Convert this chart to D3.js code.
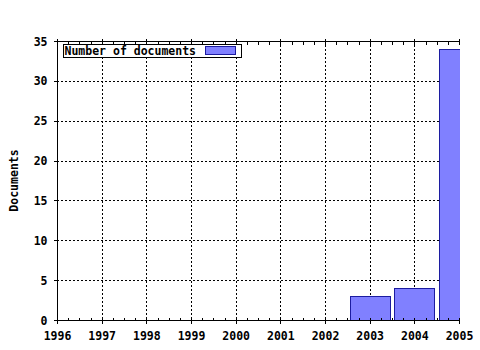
<!DOCTYPE html>
<html lang="en">
<head>
    <meta charset="UTF-8">
    <title>Number of documents</title>
    <script src="https://d3js.org/d3.v7.min.js"></script>
    <style>
        body { margin: 0; background: #fff; }
        text {
            font-family: "DejaVu Sans Mono", monospace;
            font-weight: bold;
            font-size: 11.5px;
            fill: #000;
        }
        .grid line { stroke: #000; stroke-width: 1; stroke-dasharray: 2,2; }
        .axis path, .axis line { stroke: #000; shape-rendering: crispEdges; }
    </style>
</head>
<body>
<svg id="chart" width="480" height="350"></svg>
<script>
    const years = [2003, 2004, 2005];
    const documents = [3, 4, 34];
    const xTicks = [1996, 1997, 1998, 1999, 2000, 2001, 2002, 2003, 2004, 2005];
    const yTicks = [0, 5, 10, 15, 20, 25, 30, 35];
    const seriesName = "Number of documents";

    const plotL = 57, plotR = 459, plotT = 41, plotB = 320;
    const svg = d3.select("#chart");

    const x = d3.scaleLinear().domain([1996, 2005]).range([plotL, plotR]);
    const y = d3.scaleLinear().domain([0, 35]).range([plotB, plotT]);
    const step = x(1997) - x(1996);
    const barW = step * 0.9;

    svg.append("defs").append("clipPath").attr("id", "plot")
        .append("rect").attr("x", plotL).attr("y", plotT)
        .attr("width", plotR - plotL + 1).attr("height", plotB - plotT + 1);

    // dotted grid
    const grid = svg.append("g").attr("class", "grid");
    grid.selectAll(".gx").data(xTicks.slice(1, -1)).enter().append("line")
        .attr("x1", d => Math.round(x(d)) + 0.5).attr("x2", d => Math.round(x(d)) + 0.5)
        .attr("y1", plotT).attr("y2", plotB);
    grid.selectAll(".gy").data(yTicks.slice(1, -1)).enter().append("line")
        .attr("y1", d => Math.round(y(d)) + 0.5).attr("y2", d => Math.round(y(d)) + 0.5)
        .attr("x1", plotL).attr("x2", plotR);

    // bars
    svg.append("g").attr("clip-path", "url(#plot)")
        .selectAll("rect").data(years).enter().append("rect")
        .attr("x", d => Math.round(x(d) - barW / 2) + 0.5)
        .attr("y", (d, i) => Math.round(y(documents[i])) + 0.5)
        .attr("width", Math.round(barW))
        .attr("height", (d, i) => plotB - Math.round(y(documents[i])))
        .attr("fill", "#8080ff")
        .attr("stroke", "#1c1ca0")
        .attr("stroke-width", 1);

    const minor = d3.range(1996, 2005.01, 0.25);

    // bottom axis
    svg.append("g").attr("class", "axis")
        .attr("transform", `translate(0,${plotB + 0.5})`)
        .call(d3.axisBottom(x).tickValues(minor).tickSize(-3).tickFormat(""))
        .call(g => g.select(".domain").remove());
    svg.append("g").attr("class", "axis")
        .attr("transform", `translate(0,${plotB + 0.5})`)
        .call(d3.axisBottom(x).tickValues(xTicks).tickSize(3).tickFormat(d3.format("d")).tickPadding(6))
        .call(g => g.select(".domain").attr("d", `M${plotL},0H${plotR}`))
        .call(g => g.selectAll("line").attr("y1", -3))
        .call(g => g.selectAll("text").attr("dy", "0.9em"));

    // top axis
    svg.append("g").attr("class", "axis")
        .attr("transform", `translate(0,${plotT + 0.5})`)
        .call(d3.axisTop(x).tickValues(minor).tickSize(-3).tickFormat(""))
        .call(g => g.select(".domain").attr("d", `M${plotL},0H${plotR}`));
    svg.append("g").attr("class", "axis")
        .attr("transform", `translate(0,${plotT + 0.5})`)
        .call(d3.axisTop(x).tickValues(xTicks).tickSize(3).tickFormat(""))
        .call(g => g.select(".domain").remove())
        .call(g => g.selectAll("line").attr("y1", 3));

    // left axis
    svg.append("g").attr("class", "axis")
        .attr("transform", `translate(${plotL + 0.5},0)`)
        .call(d3.axisLeft(y).tickValues(yTicks).tickSize(4).tickPadding(6))
        .call(g => g.select(".domain").attr("d", `M0,${plotT}V${plotB}`))
        .call(g => g.selectAll("text").attr("dy", "0.35em"));

    // y label
    svg.append("text")
        .attr("transform", `translate(18,${(plotT + plotB) / 2}) rotate(-90)`)
        .attr("text-anchor", "middle")
        .text("Documents");

    // legend
    const lg = svg.append("g").attr("transform", "translate(63.5,44.5)");
    lg.append("rect").attr("width", 178).attr("height", 13)
        .attr("fill", "#fff").attr("stroke", "#000");
    lg.append("text").attr("x", 1).attr("y", 10.5).text(seriesName);
    lg.append("rect").attr("x", 142).attr("y", 2).attr("width", 30).attr("height", 8)
        .attr("fill", "#8080ff").attr("stroke", "#1c1ca0");
</script>
</body>
</html>
